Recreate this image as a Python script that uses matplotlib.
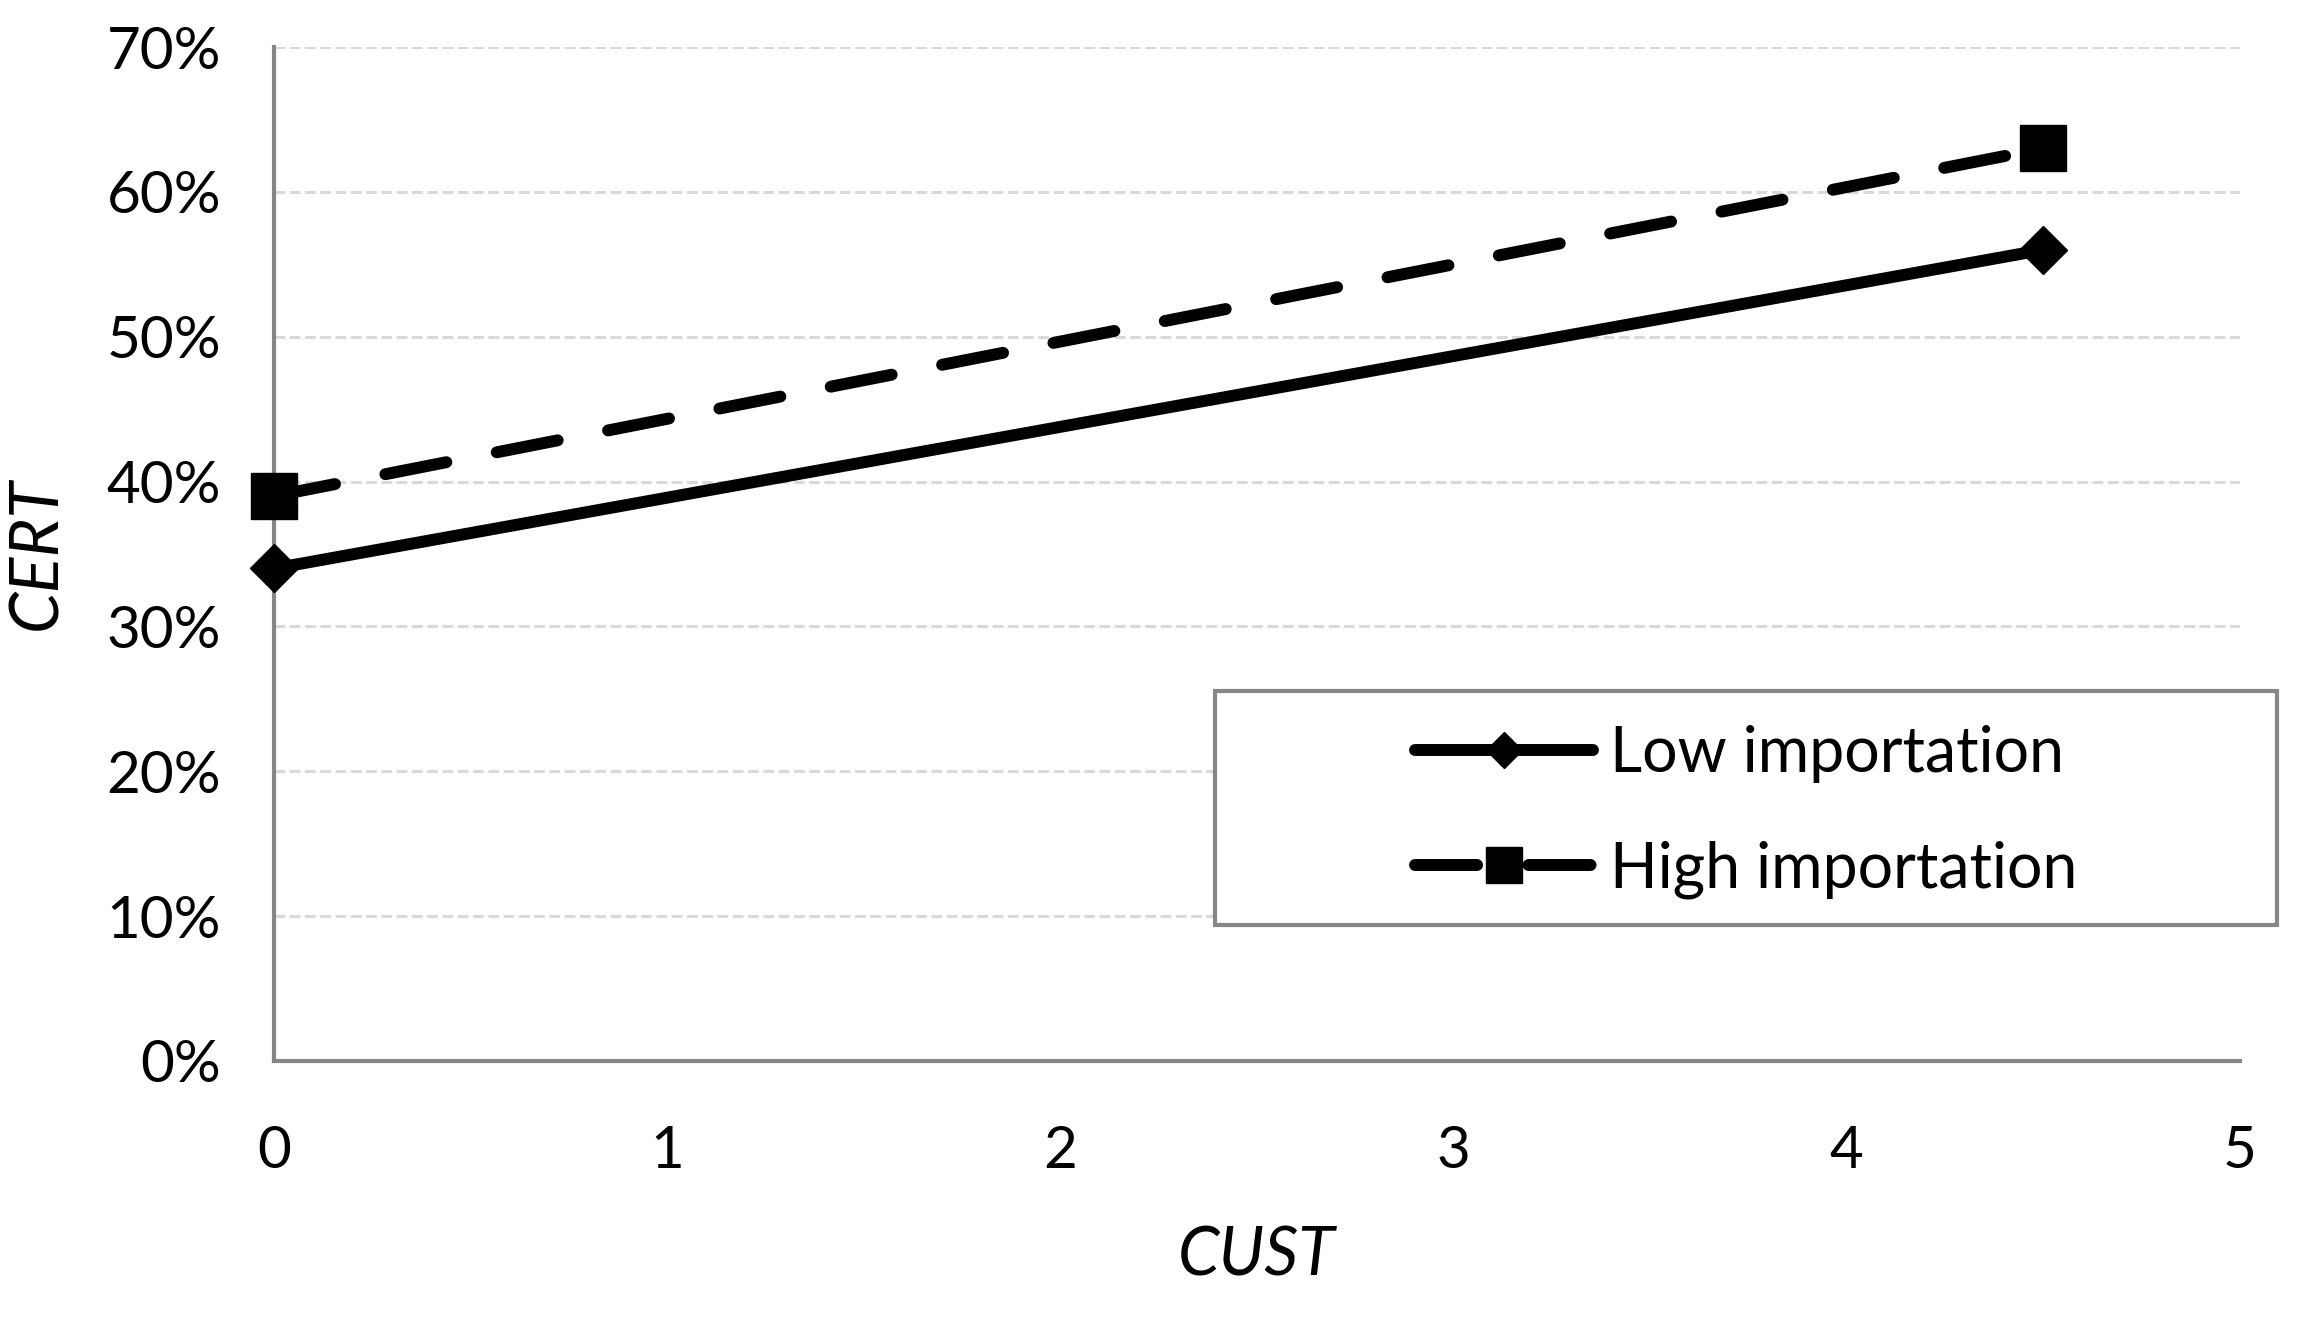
import matplotlib
matplotlib.use("Agg")
import matplotlib.pyplot as plt
from matplotlib.ticker import PercentFormatter
from matplotlib.patches import Rectangle

plt.rcParams['font.family'] = ['Lato', 'DejaVu Sans']

# Data
cust = [0, 4.5]
low_importation = [0.34, 0.56]
high_importation = [0.39, 0.63]
series_labels = ["Low importation", "High importation"]
x_ticks = [0, 1, 2, 3, 4, 5]
y_ticks = [0, 0.1, 0.2, 0.3, 0.4, 0.5, 0.6, 0.7]

fig = plt.figure(figsize=(22.99, 13.17), dpi=100)
ax = fig.add_axes([0.1192, 0.1944, 0.9743 - 0.1192, 0.9643 - 0.1944])

ax.plot(cust, low_importation, color='black', lw=8.6, marker='D', markersize=24,
        solid_capstyle='round', label=series_labels[0], clip_on=False, zorder=3)
ax.plot(cust, high_importation, color='black', lw=8.6, marker='s', markersize=33,
        linestyle=(0, (5.2, 4.3)), dash_capstyle='round', label=series_labels[1],
        clip_on=False, zorder=3)

ax.set_xlim(0, 5)
ax.set_ylim(0, 0.7)
ax.set_xticks(x_ticks)
ax.set_yticks(y_ticks)
ax.yaxis.set_major_formatter(PercentFormatter(1.0, decimals=0))
ax.tick_params(axis='both', length=0, labelsize=42)
ax.tick_params(axis='y', pad=38)
ax.tick_params(axis='x', pad=46)

ax.grid(axis='y', color='#d9d9d9', lw=2.2, linestyle=(0, (3.5, 1.5)))
ax.set_axisbelow(True)
for s in ['top', 'right']:
    ax.spines[s].set_visible(False)
for s in ['left', 'bottom']:
    ax.spines[s].set_color('#868686')
    ax.spines[s].set_linewidth(3)

ax.set_xlabel('CUST', fontsize=48, style='italic', labelpad=34)
fig.text(0.016, 0.58, 'CERT', fontsize=48, style='italic', rotation=90,
         ha='center', va='center')

# Legend frame drawn as a figure rectangle, legend content centered in it
fx0, fy0, fw, fh = 0.5287, 0.2977, 0.4617, 0.178
frame = Rectangle((fx0, fy0), fw, fh, transform=fig.transFigure, fill=True,
                  facecolor='white', edgecolor='#868686', lw=3, zorder=5)
fig.add_artist(frame)

leg = fig.legend(loc='center', bbox_to_anchor=(fx0 + fw / 2, fy0 + fh / 2 - 0.003),
                 fontsize=45, frameon=False, handlelength=2.85,
                 handletextpad=0.28, borderpad=0, labelspacing=0.92,
                 borderaxespad=0, markerscale=0.78)
leg.set_zorder(6)

fig.savefig('out.png', dpi=100)
